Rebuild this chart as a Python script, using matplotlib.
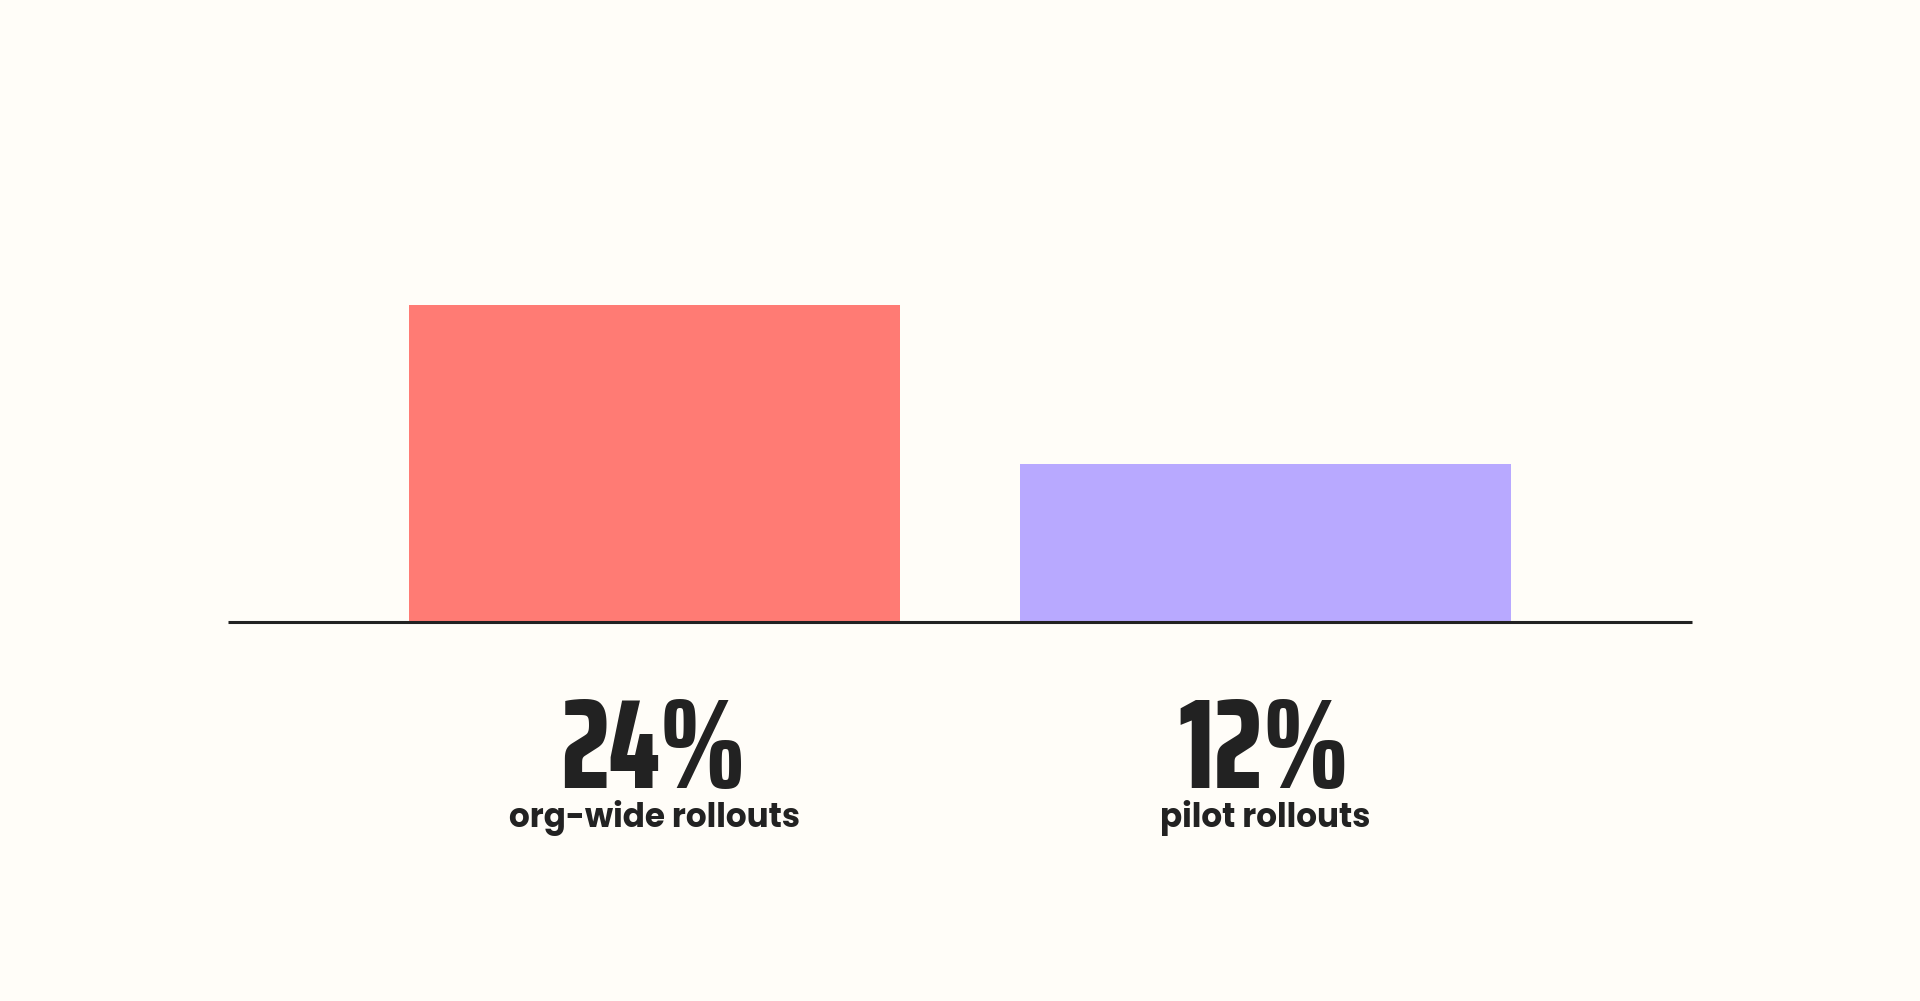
import matplotlib

matplotlib.use("Agg")
import matplotlib.pyplot as plt

# data
categories = ["org-wide rollouts", "pilot rollouts"]
values = [24, 12]
value_labels = ["24%", "12%"]
colors = ["#FF7B74", "#B8A9FF"]

BG = "#FFFDF8"
INK = "#222222"

fig = plt.figure(figsize=(19.2, 10.01), dpi=100, facecolor=BG)
W, H = 1920, 1001
# axes: baseline at y=622px, 30 units = 396px
ax = fig.add_axes([228 / W, 1 - 622 / H, 1464 / W, 396 / H])
ax.set_facecolor(BG)

x = list(range(len(categories)))
ax.bar(x, values, width=0.804, color=colors, linewidth=0)

ax.set_xlim(-0.698, len(categories) - 1 + 0.698)
ax.set_ylim(0, 30)
for side in ["top", "left", "right"]:
    ax.spines[side].set_visible(False)
ax.spines["bottom"].set_color(INK)
ax.spines["bottom"].set_linewidth(2.2)
ax.spines["bottom"].set_capstyle("butt")
ax.set_xticks([])
ax.set_yticks([])

for i, (lbl, cat) in enumerate(zip(value_labels, categories)):
    ax.annotate(
        lbl,
        xy=(i, 0),
        xytext=(-1, -119.5),
        textcoords="offset points",
        ha="center",
        va="baseline",
        fontsize=92,
        fontweight="heavy",
        family="Saira ExtraCondensed",
        color=INK,
        annotation_clip=False,
    )
    ax.annotate(
        cat,
        xy=(i, 0),
        xytext=(0, -147.5),
        textcoords="offset points",
        ha="center",
        va="baseline",
        fontsize=23.5,
        fontweight="bold",
        family="Poppins",
        color=INK,
        annotation_clip=False,
    )

plt.savefig("out.png", dpi=100, facecolor=BG)
plt.close()
